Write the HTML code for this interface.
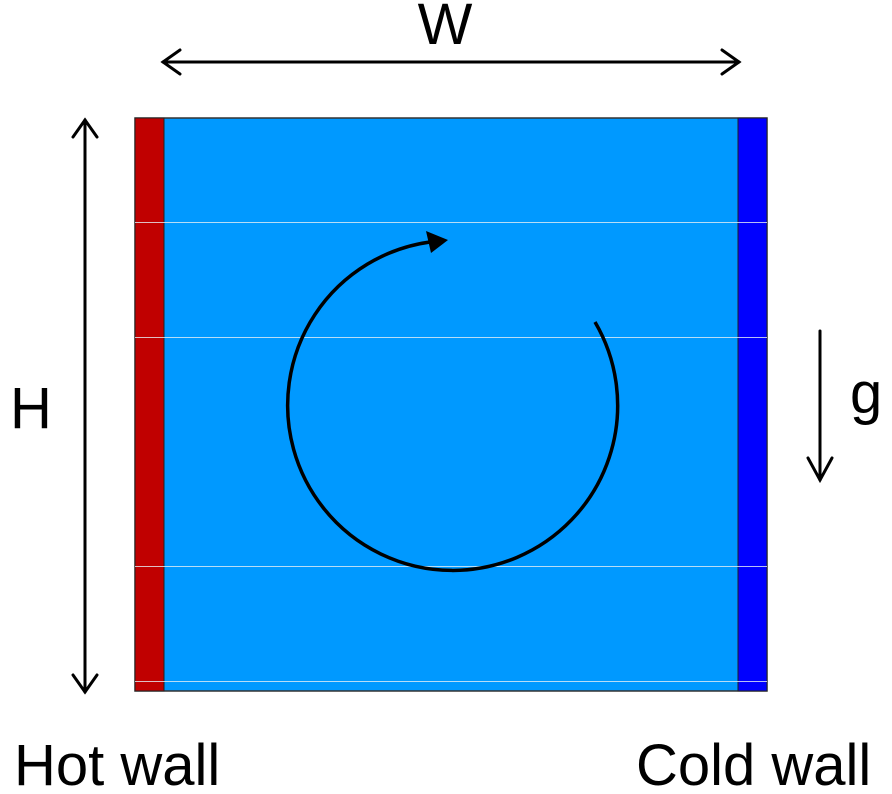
<!DOCTYPE html>
<html><head><meta charset="utf-8"><style>
html,body{margin:0;padding:0;background:#fff;width:892px;height:794px;overflow:hidden}
</style></head><body>
<svg width="892" height="794" viewBox="0 0 892 794" xmlns="http://www.w3.org/2000/svg" style="display:block">
<rect x="135" y="118" width="632" height="573" fill="#0099ff" stroke="#333" stroke-width="1.5"/>
<rect x="135" y="118" width="29" height="573" fill="#c00000" stroke="#222" stroke-width="1"/>
<rect x="738" y="118" width="29" height="573" fill="#0000ff" stroke="#222" stroke-width="1"/>
<g stroke="#e6eef5" stroke-width="1" opacity="0.8">
<line x1="135" y1="222.5" x2="767" y2="222.5"/>
<line x1="135" y1="337.5" x2="767" y2="337.5"/>
<line x1="135" y1="566.5" x2="767" y2="566.5"/>
<line x1="135" y1="681.5" x2="767" y2="681.5"/>
</g>
<path d="M595,322 A165,165 0 1 1 430,242" fill="none" stroke="#000" stroke-width="3.5"/>
<polygon points="426,231 448,240 431,253" fill="#000"/>
<g stroke="#000" stroke-width="3" fill="none" stroke-linecap="round">
<line x1="163" y1="62" x2="739" y2="62"/>
<polyline points="180,50 163,62 180,74"/>
<polyline points="722,50 739,62 722,74"/>
<line x1="85" y1="120" x2="85" y2="692"/>
<polyline points="73,137 85,120 97,137"/>
<polyline points="73,675 85,692 97,675"/>
<line x1="820" y1="331" x2="820" y2="480"/>
<polyline points="808,458 820,480 832,458"/>
</g>
<g font-family="Liberation Sans, sans-serif" font-size="58" fill="#000">
<text x="445" y="44" text-anchor="middle">W</text>
<text x="10" y="428">H</text>
<text x="850" y="413">g</text>
<text x="14" y="785">Hot wall</text>
<text x="636" y="785">Cold wall</text>
</g>
</svg>
</body></html>
